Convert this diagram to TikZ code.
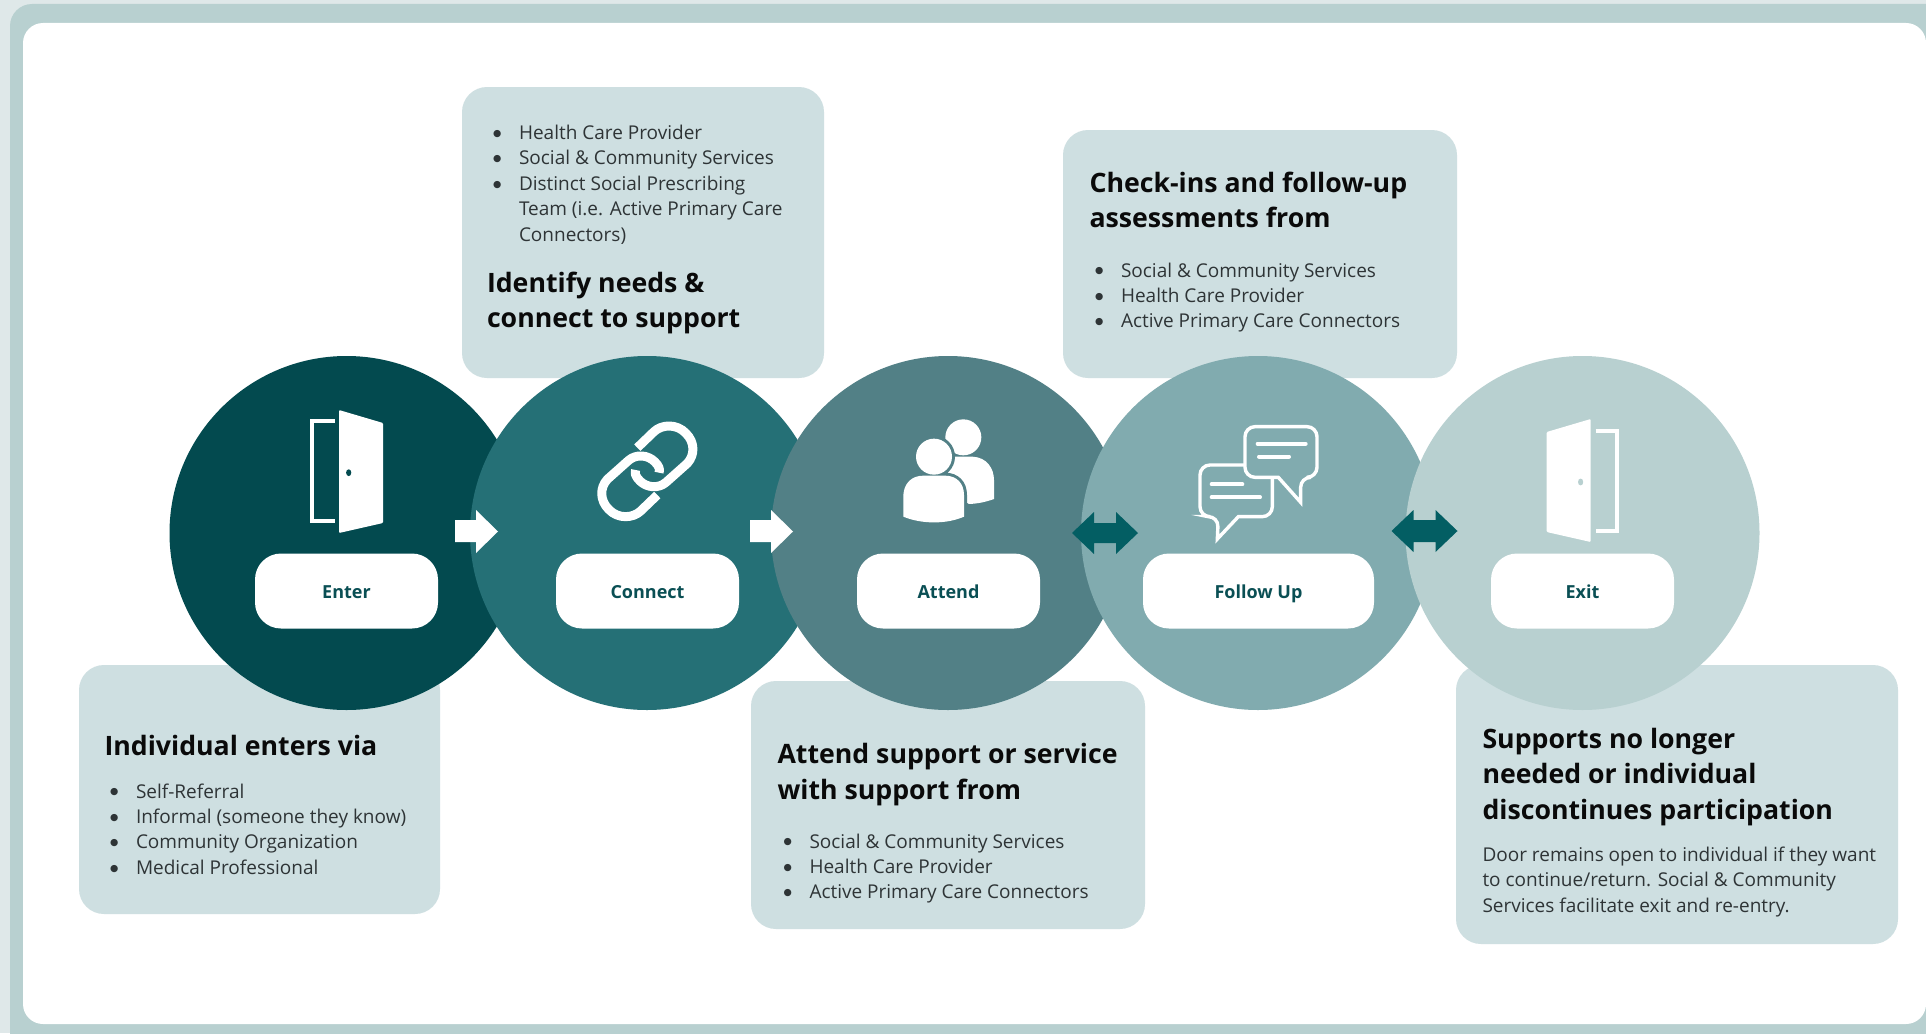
\documentclass[tikz,border=0pt]{standalone}
\usepackage{fontspec}
\setmainfont{Open Sans}
\newfontfamily\bulletfont{DejaVu Sans}
\definecolor{outerbg}{HTML}{DFE8E9}
\definecolor{ringc}{HTML}{B8D0D0}
\definecolor{boxc}{HTML}{CEDFE1}
\definecolor{ca}{HTML}{034A4F}
\definecolor{cb}{HTML}{257076}
\definecolor{cc}{HTML}{528086}
\definecolor{cd}{HTML}{81ABAF}
\definecolor{ce}{HTML}{B8D0D0}
\definecolor{darrow}{HTML}{035E63}
\definecolor{pilltext}{HTML}{0A4F54}
\definecolor{bodyc}{HTML}{2E3436}
\definecolor{headc}{HTML}{0A0A0A}
\newcommand\Ln[1]{\hbox{#1}}
\newcommand\Bl[1]{\hbox{\llap{\raisebox{3.2pt}{\bulletfont\fontsize{9.5}{9.5}\selectfont ●}\hspace{17.6pt}}#1}}
\newcommand\Body[1]{\vtop{\fontsize{19}{25.4}\selectfont\baselineskip=25.4pt\lineskiplimit=-100pt #1}}
\newcommand\Head[1]{\vtop{\fontsize{26.7}{35.5}\selectfont\bfseries\baselineskip=35.5pt\lineskiplimit=-100pt #1}}
\tikzset{
  stagecircle/.style={circle,inner sep=0pt,outer sep=0pt,minimum size=354pt,fill=#1},
  infobox/.style={rectangle,rounded corners=25pt,fill=boxc,inner sep=0pt,outer sep=0pt,anchor=north west},
  pill/.style={rectangle,rounded corners=26pt,fill=white,inner sep=0pt,outer sep=0pt,minimum height=75pt,
    text=pilltext,text height=14pt,text depth=0pt,font=\fontsize{18}{22}\selectfont\bfseries},
  bodytext/.style={anchor=base west,inner sep=0pt,outer sep=0pt,text=bodyc},
  headtext/.style={anchor=base west,inner sep=0pt,outer sep=0pt,text=headc},
  icon/.style={fill=white,draw=none}
}
\begin{document}
\begin{tikzpicture}[x=1pt,y=-1pt]
\useasboundingbox (0,0) rectangle (1926,1033);
\clip (0,0) rectangle (1926,1033);
\fill[outerbg] (0,0) rectangle (1926,1033);
\fill[ringc,rounded corners=22pt] (10,4) rectangle (1960,1060);
\fill[white,rounded corners=20pt] (23,23) rectangle (1926,1024);

% info boxes
\node[infobox,minimum width=362pt,minimum height=291pt] (boxconnect) at (462,87) {};
\node[infobox,minimum width=394pt,minimum height=248pt] (boxfollow) at (1063,130) {};
\node[infobox,minimum width=361pt,minimum height=249pt] (boxenter) at (79,665) {};
\node[infobox,minimum width=394pt,minimum height=248pt] (boxattend) at (751,681) {};
\node[infobox,minimum width=442pt,minimum height=279pt] (boxexit) at (1456,665) {};

% stage circles
\node[stagecircle=ca] (enter) at (346.5,533) {};
\node[stagecircle=cb] (connect) at (647,533) {};
\node[stagecircle=cc] (attend) at (948,533) {};
\node[stagecircle=cd] (follow) at (1258,533) {};
\node[stagecircle=ce] (exit) at (1582.5,533) {};

% pills
\node[pill,minimum width=183pt] (penter) at (346.5,591) {Enter};
\node[pill,minimum width=183pt] (pconnect) at (647.5,591) {Connect};
\node[pill,minimum width=183pt] (pattend) at (948.5,591) {Attend};
\node[pill,minimum width=231pt] (pfollow) at (1258.5,591) {Follow Up};
\node[pill,minimum width=183pt] (pexit) at (1582.5,591) {Exit};

% block arrows
\fill[white] (455,520) -- (476,520) -- (476,510) -- (498,531.5) -- (476,553) -- (476,542) -- (455,542) -- cycle;
\fill[white] (750,520) -- (771,520) -- (771,510) -- (793,531.5) -- (771,553) -- (771,542) -- (750,542) -- cycle;
\fill[darrow] (1072,533) -- (1094,512) -- (1094,523) -- (1116,523) -- (1116,512) -- (1138,533) -- (1116,554) -- (1116,543) -- (1094,543) -- (1094,554) -- cycle;
\fill[darrow] (1391.5,531) -- (1413.5,510) -- (1413.5,520) -- (1435.5,520) -- (1435.5,510) -- (1457.5,531) -- (1435.5,552) -- (1435.5,542) -- (1413.5,542) -- (1413.5,552) -- cycle;

% enter door
\draw[white,line width=4.5pt,line join=miter] (335,421) -- (312,421) -- (312,521) -- (335,521);
\fill[icon,rounded corners=1pt] (339,410) -- (383,423) -- (383,523) -- (339,533) -- cycle;
\fill[ca] (348.7,472.7) ellipse (2.6pt and 3.4pt);

% exit door
\draw[white,line width=4.5pt,line join=miter] (1595.5,431) -- (1617,431) -- (1617,531) -- (1595.5,531);
\fill[icon,rounded corners=1pt] (1590.7,419) -- (1546.7,432) -- (1546.7,532) -- (1590.7,542) -- cycle;
\fill[ce] (1580.6,482) ellipse (2.6pt and 3.4pt);

% link icon
\begin{scope}[shift={(580,405)},x=0.3333pt,y=-0.3333pt]
\draw[white,line width=9pt,line cap=butt,line join=round]
 (172,128) -- (222,80) .. controls (245,58) and (290,55) .. (318,85)
 .. controls (345,112) and (345,150) .. (322,175) -- (258,232)
 .. controls (235,252) and (200,248) .. (180,228) .. controls (167,215) and (163,205) .. (167,195);
\draw[white,line width=9pt,line cap=butt,line join=round]
 (232,270) -- (182,318) .. controls (159,340) and (114,343) .. (86,313)
 .. controls (59,286) and (59,248) .. (82,223) -- (146,166)
 .. controls (169,146) and (204,150) .. (224,170) .. controls (237,183) and (241,193) .. (237,203);
\end{scope}

% people icon
\begin{scope}[shift={(890,405)},x=0.3333pt,y=-0.3333pt]
\fill[white] (220,97) circle (18pt);
\fill[white] (170,155) -- (248,155) .. controls (290,157) and (312,190) .. (312,225) -- (312,282)
  .. controls (290,290) and (265,296) .. (237,297) -- (180,260) -- cycle;
\def\frontbody{(40,335) -- (40,270) .. controls (42,235) and (65,212) .. (100,212)
  -- (165,212) .. controls (200,212) and (222,235) .. (222,270) -- (222,335)
  .. controls (170,358) and (95,358) .. (40,335) -- cycle}
\draw[cc,line width=6pt] (132,155) circle (18pt);
\draw[cc,line width=6pt] \frontbody;
\fill[white] (132,155) circle (18pt);
\fill[white] \frontbody;
\end{scope}

% chat icon
\begin{scope}[shift={(1185,415)},x=0.3333pt,y=-0.3333pt]
\draw[white,line width=3.4pt,line join=miter,rounded corners=10pt]
  (280,187) -- (180,187) -- (180,35) -- (396,35) -- (396,187) -- (347,187) [sharp corners] -- (347,262) -- (280,187) -- (270,187);
\draw[white,line width=3.4pt,line join=miter,rounded corners=10pt]
  (178,150) -- (45,150) -- (45,305) -- (100,305) [sharp corners] -- (97,372) -- (160,305) [rounded corners=10pt] -- (262,305) -- (262,190);
\draw[white,line width=4pt,line cap=round] (218,86) -- (362,86);
\draw[white,line width=4pt,line cap=round] (222,125) -- (312,125);
\draw[white,line width=4pt,line cap=round] (80,208) -- (172,208);
\draw[white,line width=4pt,line cap=round] (80,247) -- (225,247);
\end{scope}

% texts
\node[bodytext] (tconnect) at (519,139.5) {\Body{\Bl{Health Care Provider}\Bl{Social \& Community Services}\Bl{Distinct Social Prescribing}\Ln{Team (i.e. Active Primary Care}\Ln{Connectors)}}};
\node[headtext] (hconnect) at (487,292) {\Head{\Ln{Identify needs \&}\Ln{connect to support}}};

\node[headtext] (hfollow) at (1089.5,192) {\Head{\Ln{Check-ins and follow-up}\Ln{assessments from}}};
\node[bodytext] (tfollow) at (1121,277) {\Body{\Bl{Social \& Community Services}\Bl{Health Care Provider}\Bl{Active Primary Care Connectors}}};

\node[headtext] (henter) at (104.5,755) {\Head{\Ln{Individual enters via}}};
\node[bodytext] (tenter) at (136,798) {\Body{\Bl{Self-Referral}\Bl{Informal (someone they know)}\Bl{Community Organization}\Bl{Medical Professional}}};

\node[headtext] (hattend) at (777.5,763.5) {\Head{\Ln{Attend support or service}\Ln{with support from}}};
\node[bodytext] (tattend) at (809.5,848) {\Body{\Bl{Social \& Community Services}\Bl{Health Care Provider}\Bl{Active Primary Care Connectors}}};

\node[headtext] (hexit) at (1482.5,748) {\Head{\Ln{Supports no longer}\Ln{needed or individual}\Ln{discontinues participation}}};
\node[bodytext] (texit) at (1482.5,861.5) {\Body{\Ln{Door remains open to individual if they want}\Ln{to continue/return. Social \& Community}\Ln{Services facilitate exit and re-entry.}}};
\end{tikzpicture}
\end{document}
